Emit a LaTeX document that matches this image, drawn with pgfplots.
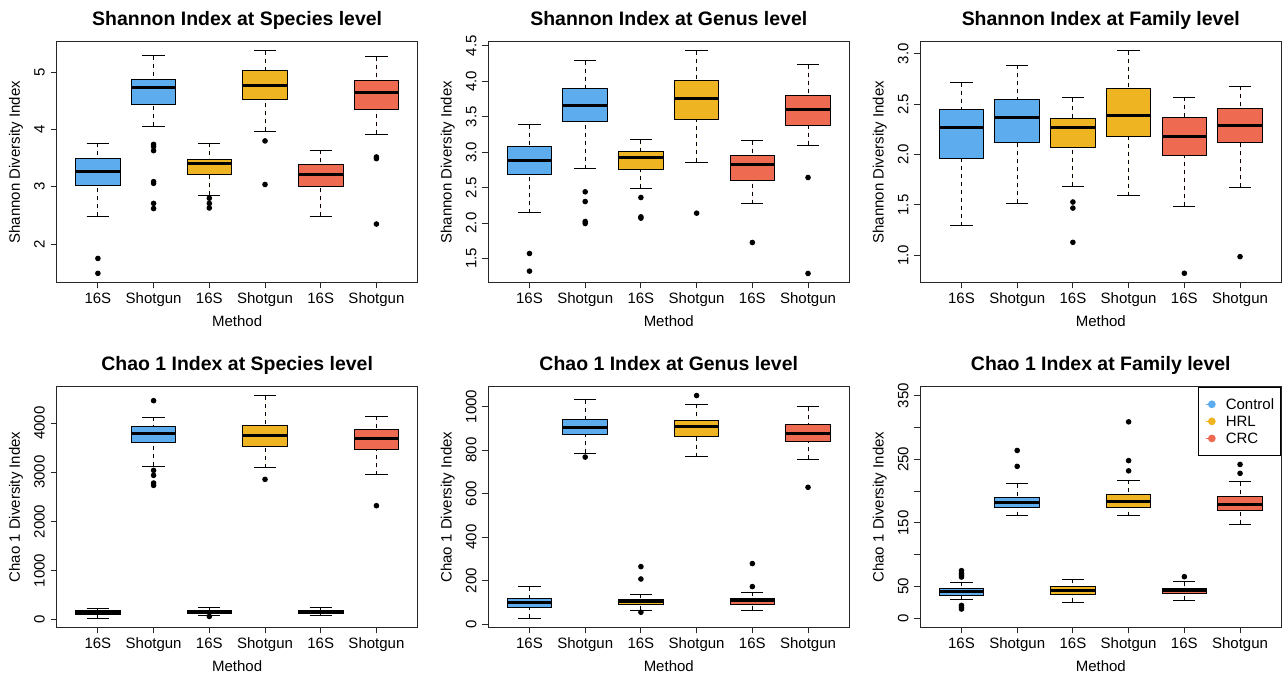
\documentclass[border=0pt]{standalone}
\usepackage{pgfplots}
\pgfplotsset{compat=1.18}
\usepgfplotslibrary{statistics}
\usepackage{fontspec}
\setmainfont{Liberation Sans}
\definecolor{cblue}{HTML}{5CACEE}
\definecolor{cyel}{HTML}{EEB422}
\definecolor{cred}{HTML}{EE6A50}
\newcommand{\ticksz}{\fontsize{11.25}{13.5}\selectfont}
\newcommand{\titlesz}{\fontsize{14.6}{17.5}\selectfont}
\pgfplotsset{
 rpanel/.style={
  scale only axis, width=270.75pt, height=180.3pt,
  xmin=0.26, xmax=6.74,
  xtick={1,2,3,4,5,6},
  xticklabels={16S,Shotgun,16S,Shotgun,16S,Shotgun},
  xtick pos=left, ytick pos=left, tick align=outside,
  major tick length=4.5pt,
  axis line style={line width=0.75pt, black!85},
  tick style={line width=0.75pt, black!85},
  xticklabel style={anchor=base, inner sep=0pt, font=\ticksz},
  yticklabel style={rotate=90, anchor=base, inner sep=0pt, font=\ticksz},
  xticklabel shift=11.5pt,
  yticklabel shift=4.5pt,
  xlabel={Method},
  xlabel style={at={(axis description cs:0.5,-0.1846)}, anchor=base, font=\ticksz, inner sep=0pt},
  ylabel style={at={(axis description cs:-0.1017,0.5)}, anchor=base, font=\ticksz, inner sep=0pt},
  title style={at={(axis description cs:0.5,1.0665)}, anchor=base, yshift=-6pt, font=\bfseries\titlesz, inner sep=0pt},
  boxplot/draw direction=y,
  boxplot/box extend=0.8,
  boxplot/whisker extend=0.4,
  boxplot/every median/.style={line width=2.25pt, solid},
  boxplot/every box/.style={solid},
  boxplot/draw/lower whisker/.code={%
    \draw[dash pattern=on 3pt off 3pt] (boxplot cs:\pgfplotsboxplotvalue{lower whisker}) -- (boxplot cs:\pgfplotsboxplotvalue{lower quartile});
    \draw[solid] (boxplot whisker cs:\pgfplotsboxplotvalue{lower whisker},0) -- (boxplot whisker cs:\pgfplotsboxplotvalue{lower whisker},1);
  },
  boxplot/draw/upper whisker/.code={%
    \draw[dash pattern=on 3pt off 3pt] (boxplot cs:\pgfplotsboxplotvalue{upper whisker}) -- (boxplot cs:\pgfplotsboxplotvalue{upper quartile});
    \draw[solid] (boxplot whisker cs:\pgfplotsboxplotvalue{upper whisker},0) -- (boxplot whisker cs:\pgfplotsboxplotvalue{upper whisker},1);
  },
 },
 rbox/.style={draw=black, line width=0.75pt, mark=*, mark size=1.7pt, mark options={fill=black, draw=black, solid}},
}
% \bp{position}{colour}{lower whisker}{lower quartile}{median}{upper quartile}{upper whisker} coordinates {outliers};
\newcommand{\bp}[7]{\addplot[rbox, fill=#2, boxplot prepared={draw position=#1, lower whisker=#3, lower quartile=#4, median=#5, upper quartile=#6, upper whisker=#7}]}
\begin{document}
\begin{tikzpicture}
\path[use as bounding box] (0,0) rectangle (961.5pt,507.75pt);
% ---------- Shannon Species
\begin{axis}[rpanel, at={(42.5pt,296pt)}, anchor=south west,
  ymin=1.333, ymax=5.527, ytick={2,3,4,5}, yticklabels={2,3,4,5},
  title={Shannon Index at Species level}, ylabel={Shannon Diversity Index}]
\bp{1}{cblue}{2.49}{3.02}{3.27}{3.49}{3.76} coordinates {(1,1.75) (1,1.49)};
\bp{2}{cblue}{4.06}{4.43}{4.73}{4.88}{5.29} coordinates {(2,3.74) (2,3.70) (2,3.63) (2,3.09) (2,3.06) (2,2.71) (2,2.62)};
\bp{3}{cyel}{2.85}{3.22}{3.40}{3.48}{3.76} coordinates {(3,2.80) (3,2.71) (3,2.63)};
\bp{4}{cyel}{3.97}{4.53}{4.77}{5.02}{5.37} coordinates {(4,3.80) (4,3.04)};
\bp{5}{cred}{2.49}{3.01}{3.22}{3.38}{3.64} coordinates {};
\bp{6}{cred}{3.92}{4.35}{4.65}{4.86}{5.27} coordinates {(6,3.52) (6,3.49) (6,2.35)};
\end{axis}
% ---------- Shannon Genus
\begin{axis}[rpanel, at={(366.2pt,296pt)}, anchor=south west,
  ymin=1.164, ymax=4.556, ytick={1.5,2.0,2.5,3.0,3.5,4.0,4.5}, yticklabels={1.5,2.0,2.5,3.0,3.5,4.0,4.5},
  title={Shannon Index at Genus level}, ylabel={Shannon Diversity Index}]
\bp{1}{cblue}{2.145}{2.690}{2.887}{3.075}{3.386} coordinates {(1,1.571) (1,1.322)};
\bp{2}{cblue}{2.770}{3.433}{3.658}{3.898}{4.293} coordinates {(2,2.441) (2,2.304) (2,2.022) (2,1.994)};
\bp{3}{cyel}{2.488}{2.751}{2.925}{3.005}{3.179} coordinates {(3,2.361) (3,2.088) (3,2.070)};
\bp{4}{cyel}{2.855}{3.461}{3.762}{4.016}{4.429} coordinates {(4,2.140)};
\bp{5}{cred}{2.271}{2.605}{2.831}{2.958}{3.165} coordinates {(5,1.726)};
\bp{6}{cred}{3.099}{3.372}{3.602}{3.804}{4.237} coordinates {(6,2.643) (6,1.289)};
\end{axis}
% ---------- Shannon Family
\begin{axis}[rpanel, at={(690.2pt,296pt)}, anchor=south west,
  ymin=0.732, ymax=3.118, ytick={1.0,1.5,2.0,2.5,3.0}, yticklabels={1.0,1.5,2.0,2.5,3.0},
  title={Shannon Index at Family level}, ylabel={Shannon Diversity Index}]
\bp{1}{cblue}{1.294}{1.962}{2.266}{2.448}{2.712} coordinates {};
\bp{2}{cblue}{1.519}{2.117}{2.369}{2.550}{2.884} coordinates {};
\bp{3}{cyel}{1.684}{2.068}{2.269}{2.355}{2.564} coordinates {(3,1.529) (3,1.469) (3,1.129)};
\bp{4}{cyel}{1.592}{2.183}{2.388}{2.660}{3.030} coordinates {};
\bp{5}{cred}{1.486}{1.988}{2.180}{2.365}{2.567} coordinates {(5,0.822)};
\bp{6}{cred}{1.674}{2.124}{2.289}{2.458}{2.679} coordinates {(6,0.987)};
\end{axis}
% ---------- Chao1 Species
\begin{axis}[rpanel, at={(42.5pt,37.3pt)}, anchor=south west,
  ymin=-152, ymax=4735, ytick={0,1000,2000,3000,4000}, yticklabels={0,1000,2000,3000,4000},
  title={Chao 1 Index at Species level}, ylabel={Chao 1 Diversity Index}]
\bp{1}{cblue}{27}{108}{156}{197}{237} coordinates {};
\bp{2}{cblue}{3119}{3600}{3783}{3925}{4115} coordinates {(2,4454) (2,3037) (2,2936) (2,2780) (2,2732)};
\bp{3}{cyel}{95}{129}{170}{197}{244} coordinates {(3,68)};
\bp{4}{cyel}{3092}{3525}{3749}{3946}{4556} coordinates {(4,2854)};
\bp{5}{cred}{88}{129}{170}{197}{258} coordinates {};
\bp{6}{cred}{2949}{3458}{3675}{3864}{4142} coordinates {(6,2319)};
\end{axis}
% ---------- Chao1 Genus
\begin{axis}[rpanel, at={(366.2pt,37.3pt)}, anchor=south west,
  ymin=-15, ymax=1091, ytick={0,200,400,600,800,1000}, yticklabels={0,200,400,600,800,1000},
  title={Chao 1 Index at Genus level}, ylabel={Chao 1 Diversity Index}]
\bp{1}{cblue}{26}{77}{100}{118}{172} coordinates {};
\bp{2}{cblue}{785}{874}{906}{940}{1031} coordinates {(2,768)};
\bp{3}{cyel}{63}{89}{103}{112}{137} coordinates {(3,264) (3,207) (3,54)};
\bp{4}{cyel}{770}{863}{909}{936}{1012} coordinates {(4,1051)};
\bp{5}{cred}{63}{89}{106}{118}{147} coordinates {(5,278) (5,172)};
\bp{6}{cred}{759}{840}{876}{920}{1000} coordinates {(6,629)};
\end{axis}
% ---------- Chao1 Family
\begin{axis}[rpanel, at={(690.2pt,37.3pt)}, anchor=south west,
  ymin=-14, ymax=364, ytick={0,50,100,150,200,250,300,350}, yticklabels={0,50,,150,,250,,350},
  title={Chao 1 Index at Family level}, ylabel={Chao 1 Diversity Index},
  legend image code/.code={\path (-4.45pt,0pt) -- (2.5pt,0pt); \fill[#1] (0pt,0pt) circle (2.5pt);},
  legend cell align=left,
  legend style={at={(axis description cs:1,1)}, anchor=north east, draw=black, line width=0.75pt,
    fill=white, font=\ticksz, inner xsep=5pt, inner ysep=6.3pt, column sep=7.55pt, row sep=0pt,
    nodes={inner sep=0pt, text height=10.4pt, text depth=2.4pt}},
  legend entries={Control,HRL,CRC}]
\addlegendimage{cblue}
\addlegendimage{cyel}
\addlegendimage{cred}
\bp{1}{cblue}{29.4}{36.2}{41.9}{47.2}{56.6} coordinates {(1,75) (1,71) (1,68) (1,65) (1,20.4) (1,17.3) (1,14.7)};
\bp{2}{cblue}{161}{175}{182}{190}{212} coordinates {(2,264) (2,239)};
\bp{3}{cyel}{25.2}{37.2}{44}{49.8}{61.3} coordinates {};
\bp{4}{cyel}{161}{174.5}{184.5}{194}{217.5} coordinates {(4,309) (4,248) (4,232)};
\bp{5}{cred}{28.3}{38.8}{43.5}{47.2}{57.6} coordinates {(5,65.5)};
\bp{6}{cred}{148}{169}{179}{192}{215} coordinates {(6,242) (6,228)};
\end{axis}
\end{tikzpicture}
\end{document}
